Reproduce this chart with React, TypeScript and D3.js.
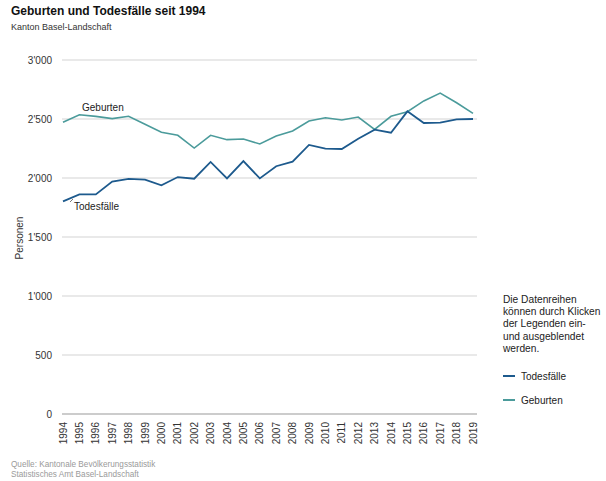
import React from "react";
import * as d3 from "d3";

const years = [1994,1995,1996,1997,1998,1999,2000,2001,2002,2003,2004,2005,2006,2007,2008,2009,2010,2011,2012,2013,2014,2015,2016,2017,2018,2019];
const todesfaelle = [1802,1861,1861,1969,1992,1986,1938,2008,1994,2136,1997,2144,1997,2100,2138,2280,2249,2246,2333,2410,2384,2565,2466,2469,2497,2500];
const geburten = [2472,2536,2522,2503,2523,2455,2387,2362,2254,2362,2325,2331,2288,2356,2398,2483,2511,2492,2517,2412,2523,2562,2653,2720,2638,2548];
const yTicks = [0,500,1000,1500,2000,2500,3000];
const noteLines = ["Die Datenreihen","können durch Klicken","der Legenden ein-","und ausgeblendet","werden."];

const C_TOD = "#1d5a8d";
const C_GEB = "#4b9b9b";
const FONT = "Arial, 'Liberation Sans', sans-serif";

const fmt = (v: number) => {
  const s = String(v);
  return s.length > 3 ? s.slice(0, s.length - 3) + "'" + s.slice(s.length - 3) : s;
};

export default function App() {
  const W = 606, H = 481;
  const x = d3.scalePoint<number>().domain(years).range([63, 473]);
  const y = d3.scaleLinear().domain([0, 3000]).range([414, 60]);
  const line = d3.line<number>().x((_, i) => x(years[i])!).y((d) => y(d));

  return (
    <svg width={W} height={H} style={{ position: "absolute", left: 0, top: 0, fontFamily: FONT }}>
      <rect width={W} height={H} fill="#fff" />
      <text x={11} y={15} fontSize={12} fontWeight="bold" fill="#111">Geburten und Todesfälle seit 1994</text>
      <text x={11} y={30} fontSize={9} fill="#333">Kanton Basel-Landschaft</text>

      {yTicks.map((t) => (
        <g key={t}>
          <line x1={62} x2={477} y1={y(t)} y2={y(t)} stroke={t === 0 ? "#999" : "#d3d3d3"} strokeWidth={1} />
          <text x={52} y={y(t) + 3.5} fontSize={10} textAnchor="end" fill="#333">{fmt(t)}</text>
        </g>
      ))}
      <text transform={`translate(23,238) rotate(-90)`} fontSize={10} textAnchor="middle" fill="#333">Personen</text>

      {years.map((yr) => (
        <text key={yr} transform={`translate(${x(yr)! + 3.5},422) rotate(-90)`} fontSize={10} textAnchor="end" fill="#333">{yr}</text>
      ))}

      <path d={line(geburten)!} fill="none" stroke={C_GEB} strokeWidth={1.6} />
      <path d={line(todesfaelle)!} fill="none" stroke={C_TOD} strokeWidth={1.8} />

      <text x={82} y={111} fontSize={10} fill="#222">Geburten</text>
      <line x1={73} x2={70} y1={199} y2={202} stroke="#555" strokeWidth={0.8} />
      <text x={74} y={210} fontSize={10} fill="#222">Todesfälle</text>

      {noteLines.map((l, i) => (
        <text key={i} x={503} y={303 + i * 12.2} fontSize={10.2} fill="#222">{l}</text>
      ))}
      <line x1={503} x2={515} y1={376} y2={376} stroke={C_TOD} strokeWidth={2} />
      <text x={521} y={379.5} fontSize={10} fill="#222">Todesfälle</text>
      <line x1={503} x2={515} y1={400} y2={400} stroke={C_GEB} strokeWidth={2} />
      <text x={521} y={403.5} fontSize={10} fill="#222">Geburten</text>

      <text x={11} y={467} fontSize={8.2} fill="#9a9a9a">Quelle: Kantonale Bevölkerungsstatistik</text>
      <text x={11} y={477} fontSize={8.2} fill="#9a9a9a">Statistisches Amt Basel-Landschaft</text>
    </svg>
  );
}
